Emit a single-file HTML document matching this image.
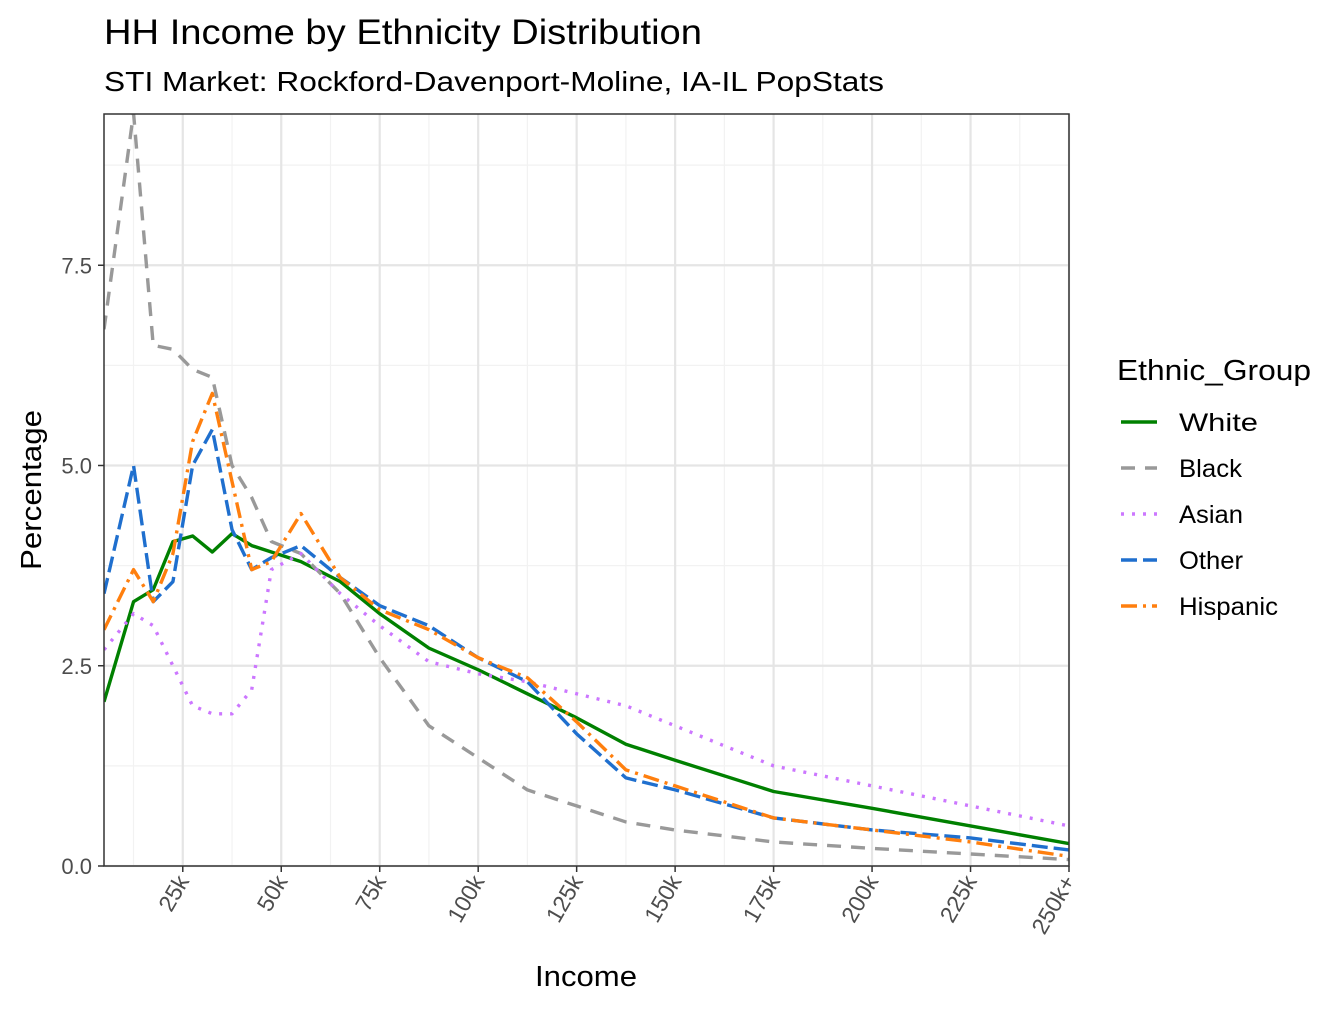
<!DOCTYPE html>
<html><head><meta charset="utf-8"><style>
body{margin:0;background:#fff;}
svg{font-family:"Liberation Sans",Arial,sans-serif;}
</style></head><body>
<svg id="chart" width="1344" height="1008" viewBox="0 0 1344 1008">
<text x="104" y="44" font-size="35" textLength="598" lengthAdjust="spacingAndGlyphs" fill="#000">HH Income by Ethnicity Distribution</text>
<text x="104" y="91" font-size="28" textLength="780" lengthAdjust="spacingAndGlyphs" fill="#000">STI Market: Rockford-Davenport-Moline, IA-IL PopStats</text>
<defs><clipPath id="pc"><rect x="104" y="114" width="965" height="752"/></clipPath></defs>
<g id="grid"></g>
<g id="series" clip-path="url(#pc)"></g>
<rect x="104" y="114" width="965" height="752" fill="none" stroke="#333" stroke-width="1.5"/>
<g id="axes"></g>
<text x="535" y="986" font-size="29" textLength="102" lengthAdjust="spacingAndGlyphs">Income</text>
<text transform="translate(41,570) rotate(-90)" font-size="29" textLength="160" lengthAdjust="spacingAndGlyphs">Percentage</text>
<g id="legend"></g>
</svg>
<script>
const incomeK=[5,12.5,17.5,22.5,27.5,32.5,37.5,42.5,47.5,55,65,75,87.5,100,112.5,125,137.5,150,175,200,225,250];
const white=[2.05,3.3,3.45,4.05,4.12,3.92,4.15,4.0,3.92,3.8,3.55,3.15,2.72,2.45,2.15,1.85,1.52,1.32,0.93,0.72,0.5,0.28];
const black=[6.7,9.4,6.5,6.45,6.2,6.1,5.0,4.6,4.05,3.9,3.4,2.6,1.75,1.35,0.95,0.75,0.55,0.45,0.3,0.22,0.15,0.08];
const asian=[2.7,3.15,3.0,2.5,2.0,1.9,1.9,2.2,3.7,3.9,3.4,3.0,2.55,2.4,2.3,2.15,2.0,1.75,1.25,1.0,0.75,0.5];
const other=[3.4,5.0,3.3,3.55,5.0,5.45,4.2,3.7,3.85,4.0,3.6,3.25,3.0,2.6,2.3,1.65,1.1,0.95,0.6,0.45,0.35,0.2];
const hispanic=[2.95,3.7,3.3,3.9,5.3,5.9,4.8,3.7,3.8,4.4,3.6,3.2,2.95,2.6,2.35,1.8,1.2,1.0,0.6,0.45,0.3,0.12];
const xTicks=[25,50,75,100,125,150,175,200,225,250];
const xTickLabels=["25k","50k","75k","100k","125k","150k","175k","200k","225k","250k+"];
const yTicks=[0,2.5,5,7.5];
const yTickLabels=["0.0","2.5","5.0","7.5"];
const groups=["White","Black","Asian","Other","Hispanic"];
const NS="http://www.w3.org/2000/svg";
const X=k=>104+(k-5)*(965/245);
const Y=v=>866-v*80.1;
function mk(t,a,p){const e=document.createElementNS(NS,t);for(const k in a)e.setAttribute(k,a[k]);p.appendChild(e);return e;}
const grid=document.getElementById('grid'),axes=document.getElementById('axes');
for(let v=1.25;v<9.4;v+=2.5){const l=mk('line',{x1:104,x2:1069,y1:Y(v),y2:Y(v),stroke:'#f2f2f2','stroke-width':1.2},grid);

}
for(let k=12.5;k<250;k+=25){const l=mk('line',{x1:X(k),x2:X(k),y1:114,y2:866,stroke:'#f2f2f2','stroke-width':1.2},grid);

}
yTicks.forEach((v,i)=>{const l=mk('line',{x1:104,x2:1069,y1:Y(v),y2:Y(v),stroke:'#e5e5e5','stroke-width':2.2},grid);


const t=mk('line',{x1:98,x2:104,y1:Y(v),y2:Y(v),stroke:'#333','stroke-width':1.5},axes);


const tx=mk('text',{x:92,y:Y(v)+8,'font-size':22,'text-anchor':'end',fill:'#4d4d4d'},axes);tx.textContent=yTickLabels[i];

});
xTicks.forEach((k,i)=>{const l=mk('line',{x1:X(k),x2:X(k),y1:114,y2:866,stroke:'#e5e5e5','stroke-width':2.2},grid);


const t=mk('line',{x1:X(k),x2:X(k),y1:866,y2:872,stroke:'#333','stroke-width':1.5},axes);


const tx=mk('text',{transform:`translate(${X(k)+7},${881}) rotate(-60)`,'font-size':23,'text-anchor':'end',fill:'#4d4d4d'},axes);tx.textContent=xTickLabels[i];

});
const styles=[{c:'#008000',d:''},{c:'#999999',d:'14,10'},{c:'#cc77ff',d:'3,8'},{c:'#1f6fce',d:'16,6'},{c:'#ff7f0e',d:'16,6,3,6'}];
const data=[white,black,asian,other,hispanic];
const widths=[79,63,64,64,99];
const sg=document.getElementById('series'),lg=document.getElementById('legend');
data.forEach((arr,i)=>{const p=mk('polyline',{points:arr.map((v,j)=>X(incomeK[j])+','+Y(v)).join(' '),fill:'none',stroke:styles[i].c,'stroke-width':3.4,'stroke-dasharray':styles[i].d,'stroke-linejoin':'round'},sg);


const y=422+i*46;
const ls=mk('line',{x1:1121,x2:1157,y1:y,y2:y,stroke:styles[i].c,'stroke-width':3.4,'stroke-dasharray':styles[i].d},lg);


const lt=mk('text',{x:1179,y:y+9,'font-size':25,textLength:widths[i],lengthAdjust:'spacingAndGlyphs'},lg);lt.textContent=groups[i];

});
const ttl=mk('text',{x:1117,y:380,'font-size':29,textLength:194,lengthAdjust:'spacingAndGlyphs'},lg);ttl.textContent='Ethnic_Group';


</script>
</body></html>
